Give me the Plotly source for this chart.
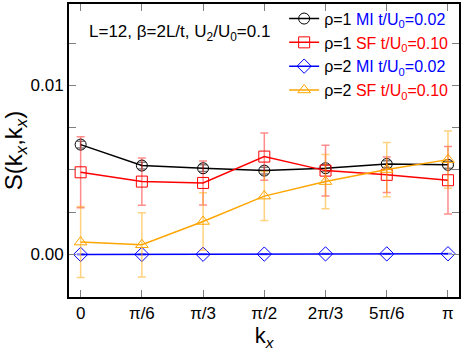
import plotly.graph_objects as go

kx = [0, 1, 2, 3, 4, 5, 6]
kx_labels = ["0", "π/6", "π/3", "π/2", "2π/3", "5π/6", "π"]

s_rho1_mi = [0.0065, 0.00526, 0.0051, 0.00496, 0.0051, 0.00535, 0.0053]
e_rho1_mi = [0.0002, 0.0002, 0.0002, 0.0002, 0.0002, 0.0002, 0.0002]

s_rho1_sf = [0.00486, 0.00431, 0.00423, 0.00579, 0.00496, 0.00471, 0.00439]
e_rho1_sf = [0.0021, 0.0014, 0.0013, 0.0014, 0.0015, 0.00105, 0.002]

s_rho2_mi = [0.0, 0.0, 0.00001, 0.00002, 0.00003, 0.00003, 0.00004]
e_rho2_mi = [0.00002, 0.00002, 0.00002, 0.00002, 0.00002, 0.00002, 0.00002]

s_rho2_sf = [0.00073, 0.00057, 0.00195, 0.00345, 0.00431, 0.00502, 0.00561]
e_rho2_sf = [0.0021, 0.0019, 0.0017, 0.00145, 0.0016, 0.0016, 0.0017]

FONT = "Liberation Sans, Arial, sans-serif"

series = [
    ("ρ=1 <span style='color:blue'>MI t/U<sub>0</sub>=0.02</span>", s_rho1_mi, e_rho1_mi,
     "black", "rgba(0,0,0,0.5)", "circle-open"),
    ("ρ=1 <span style='color:red'>SF t/U<sub>0</sub>=0.10</span>", s_rho1_sf, e_rho1_sf,
     "red", "rgba(255,0,0,0.45)", "square-open"),
    ("ρ=2 <span style='color:blue'>MI t/U<sub>0</sub>=0.02</span>", s_rho2_mi, e_rho2_mi,
     "blue", "rgba(0,0,255,0.5)", "diamond-open"),
    ("ρ=2 <span style='color:red'>SF t/U<sub>0</sub>=0.10</span>", s_rho2_sf, e_rho2_sf,
     "orange", "rgba(255,165,0,0.5)", "triangle-up-open"),
]

fig = go.Figure()
for name, y, err, col, ecol, sym in series:
    fig.add_trace(go.Scatter(
        x=kx, y=y, name=name, mode="lines+markers",
        line=dict(color=col, width=1.5),
        marker=dict(symbol=sym, size=11, color=col, line=dict(width=1)),
        error_y=dict(type="data", array=err, color=ecol, thickness=1.5, width=4),
    ))

fig.add_annotation(
    x=0.045, y=0.9, xref="paper", yref="paper", xanchor="left", yanchor="middle",
    text="L=12, β=2L/t, U<sub>2</sub>/U<sub>0</sub>=0.1", showarrow=False,
    font=dict(size=17, color="black", family=FONT),
)

fig.update_layout(
    width=463, height=359,
    margin=dict(l=69, r=2, t=4, b=62),
    plot_bgcolor="white", paper_bgcolor="white",
    font=dict(family=FONT, size=16, color="black"),
    showlegend=True,
    legend=dict(
        x=0.985, y=1.008, xanchor="right", yanchor="top",
        bgcolor="rgba(0,0,0,0)", font=dict(size=16),
        tracegroupgap=0, itemwidth=30,
    ),
)
fig.update_xaxes(
    range=[-0.19, 6.18], tickvals=kx, ticktext=kx_labels,
    ticks="inside", ticklen=7, tickcolor="gray", mirror="ticks",
    showline=True, linecolor="black", linewidth=2, showgrid=False, zeroline=False,
    title=dict(text="k<sub><i>x</i></sub>", font=dict(size=22), standoff=4),
    tickfont=dict(size=17),
)
fig.update_yaxes(
    range=[-0.00252, 0.01482],
    tickvals=[-0.0025, 0.0, 0.0025, 0.005, 0.0075, 0.01, 0.0125],
    ticktext=["", "0.00", "", "", "", "0.01", ""],
    ticks="inside", ticklen=7, tickcolor="gray", mirror="ticks",
    showline=True, linecolor="black", linewidth=2, showgrid=False, zeroline=False,
    title=dict(text="S(k<sub><i>x</i></sub>,k<sub><i>x</i></sub>)", font=dict(size=24), standoff=8),
    tickfont=dict(size=17),
)

fig.write_html("out.html", config={"displayModeBar": False},
               post_script="document.body.style.margin='0';")
